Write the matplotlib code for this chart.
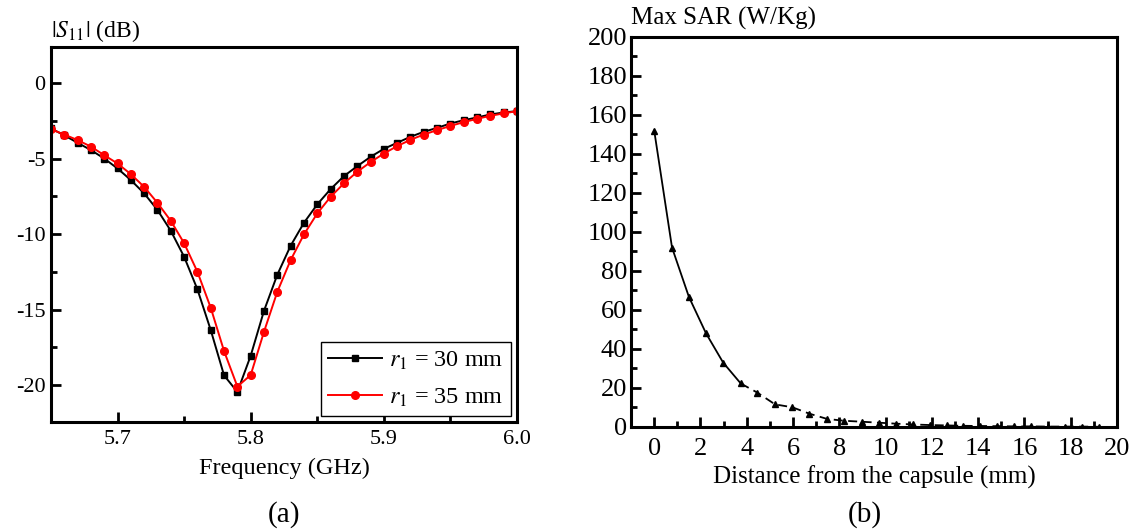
import matplotlib
matplotlib.use('Agg')
import matplotlib.pyplot as plt
from matplotlib.ticker import MultipleLocator

plt.rcParams['font.family'] = ['Liberation Serif', 'DejaVu Serif']
plt.rcParams['mathtext.fontset'] = 'stix'
plt.rcParams['axes.unicode_minus'] = False

# (a) reflection coefficient
freq = [5.65, 5.66, 5.67, 5.68, 5.69, 5.70, 5.71, 5.72, 5.73, 5.74, 5.75, 5.76,
        5.77, 5.78, 5.79, 5.80, 5.81, 5.82, 5.83, 5.84, 5.85, 5.86, 5.87, 5.88,
        5.89, 5.90, 5.91, 5.92, 5.93, 5.94, 5.95, 5.96, 5.97, 5.98, 5.99, 6.00]
s11_r30 = [-3.0, -3.45, -3.95, -4.43, -4.99, -5.65, -6.42, -7.3, -8.4, -9.78, -11.5, -13.66,
           -16.36, -19.36, -20.46, -18.06, -15.08, -12.69, -10.77, -9.25, -8.03, -7.02, -6.16, -5.5,
           -4.88, -4.35, -3.95, -3.55, -3.22, -2.96, -2.67, -2.45, -2.27, -2.07, -1.94, -1.85]
s11_r35 = [-3.05, -3.4, -3.77, -4.2, -4.77, -5.32, -6.03, -6.87, -7.93, -9.12, -10.6, -12.5,
           -14.88, -17.75, -20.1, -19.34, -16.47, -13.82, -11.72, -10.02, -8.63, -7.53, -6.64, -5.87,
           -5.23, -4.66, -4.17, -3.75, -3.4, -3.11, -2.83, -2.58, -2.36, -2.16, -2.0, -1.85]

# (b) max SAR vs distance
dist = [0, 0.77, 1.5, 2.24, 2.98, 3.74, 4.46, 5.22, 5.97, 6.71, 7.48, 8.2, 8.96, 9.71,
        10.44, 11.17, 11.9, 12.63, 13.36, 14.09, 14.82, 15.55, 16.28, 17.01, 17.74, 18.47, 19.2]
sar = [152, 92, 66.7, 48, 33, 22.3, 17.6, 11.6, 10.1, 6.8, 4.1, 3.2, 2.7, 2.2,
       1.7, 1.3, 1.0, 0.8, 0.6, 0.5, 0.4, 0.3, 0.3, 0.2, 0.2, 0.2, 0.1]
n_solid = 6

fig = plt.figure(figsize=(11.35, 5.31), dpi=100)
ax1 = fig.add_axes([0.0449, 0.2053, 0.4106, 0.7062])
ax2 = fig.add_axes([0.556, 0.1959, 0.4282, 0.7345])

ax1.plot(freq, s11_r30, color='black', lw=1.4, marker='s', ms=5, label=r'$r_1$ = 30 mm')
ax1.plot(freq, s11_r35, color='red', lw=1.4, marker='o', ms=5.5, label=r'$r_1$ = 35 mm')
ax1.set_xlim(5.65, 6.0)
ax1.set_ylim(-22.45, 2.4)
ax1.xaxis.set_minor_locator(MultipleLocator(0.05))
ax1.yaxis.set_major_locator(MultipleLocator(5))
ax1.yaxis.set_minor_locator(MultipleLocator(2.5))
ax1.set_xticks([5.7, 5.8, 5.9, 6.0])
ax1.set_xticklabels(['5.7', '5.8', '5.9', '6.0'])
ax1.set_xlabel('Frequency (GHz)', fontsize=17.5, labelpad=6)
leg = ax1.legend(loc='lower right', fontsize=17.5, fancybox=False, edgecolor='black',
                 framealpha=1, borderaxespad=0.25, handlelength=2.2, handletextpad=0.3,
                 borderpad=0.3, labelspacing=0.6)
leg.get_frame().set_linewidth(1.0)

ax2.plot(dist[:n_solid], sar[:n_solid], color='black', lw=1.3)
ax2.plot(dist[n_solid - 1:], sar[n_solid - 1:], color='black', lw=1.3, ls=(0, (5, 3)))
ax2.plot(dist, sar, ls='none', marker='^', color='black', ms=5)
ax2.set_xlim(-1, 20)
ax2.set_ylim(0, 200)
ax2.xaxis.set_major_locator(MultipleLocator(2))
ax2.xaxis.set_minor_locator(MultipleLocator(1))
ax2.yaxis.set_major_locator(MultipleLocator(20))
ax2.yaxis.set_minor_locator(MultipleLocator(10))
ax2.set_xlabel('Distance from the capsule (mm)', fontsize=18, labelpad=4)

for ax in (ax1, ax2):
    for sp in ax.spines.values():
        sp.set_linewidth(2.2)
    ax.tick_params(which='major', direction='in', length=7, width=2)
    ax.tick_params(which='minor', direction='in', length=4, width=2)

ax1.tick_params(axis='x', labelsize=16, pad=6)
ax1.tick_params(axis='y', labelsize=16, pad=4)
ax2.tick_params(axis='x', labelsize=19, pad=8)
ax2.tick_params(axis='y', labelsize=19, pad=3)

fig.text(0.045, 1 - 37 / 531, r'$|S_{11}|$ (dB)', fontsize=17, va='baseline', ha='left')
fig.text(631 / 1135, 1 - 25 / 531, 'Max SAR (W/Kg)', fontsize=18, va='baseline', ha='left')
fig.text(284 / 1135, 1 - 515 / 531, '(a)', fontsize=21, ha='center', va='center')
fig.text(865 / 1135, 1 - 515 / 531, '(b)', fontsize=21, ha='center', va='center')

fig.savefig('out.png', dpi=100)
